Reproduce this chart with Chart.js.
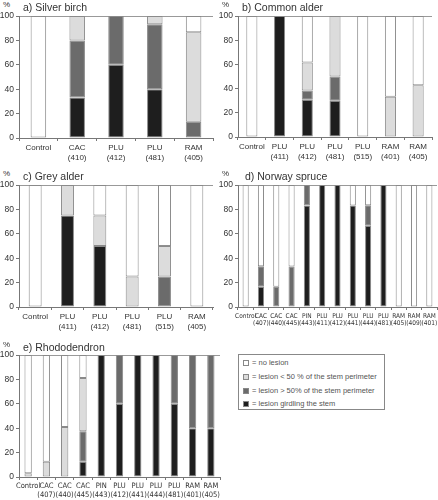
<!DOCTYPE html>
<html>
<head>
<meta charset="utf-8">
<script src="https://cdn.jsdelivr.net/npm/chart.js@4.4.0/dist/chart.umd.min.js"></script>
<style>
    body { margin: 0; background: #fff; font-family: "Liberation Sans", Arial, sans-serif; color: #333; }
    #wrap { position: relative; width: 438px; height: 500px; overflow: hidden; }
    canvas { position: absolute; }
    .t { position: absolute; font-size: 10.5px; line-height: 1; white-space: nowrap; color: #333; }
    .pc { position: absolute; font-size: 8px; line-height: 1; color: #333; }
    #legend { position: absolute; left: 238px; top: 354px; width: 147px; height: 56px; border: 1px solid #888; box-sizing: border-box; }
    .li { position: absolute; left: 4px; font-size: 7.5px; line-height: 1; white-space: nowrap; color: #555; }
    .sw { display: inline-block; width: 6px; height: 6px; border: 1px solid #888; box-sizing: border-box; vertical-align: -1px; margin-right: 3px; }
</style>
</head>
<body>
<div id="wrap">
    <canvas id="chartA"></canvas>
    <canvas id="chartB"></canvas>
    <canvas id="chartC"></canvas>
    <canvas id="chartD"></canvas>
    <canvas id="chartE"></canvas>

    <div class="pc" style="left:3px;top:1px">%</div>
    <div class="t" style="left:23px;top:2px">a) Silver birch</div>
    <div class="pc" style="left:222px;top:1px">%</div>
    <div class="t" style="left:242px;top:2px">b) Common alder</div>
    <div class="pc" style="left:3px;top:170px">%</div>
    <div class="t" style="left:23px;top:171px">c) Grey alder</div>
    <div class="pc" style="left:222px;top:170px">%</div>
    <div class="t" style="left:245px;top:171px">d) Norway spruce</div>
    <div class="pc" style="left:3px;top:341px">%</div>
    <div class="t" style="left:23px;top:342px">e) Rhododendron</div>

    <div id="legend">
        <div class="li" style="top:4px"><span class="sw" style="background:#fff"></span>= no lesion</div>
        <div class="li" style="top:18px"><span class="sw" style="background:#dcdcdc"></span>= lesion &lt; 50 % of the stem perimeter</div>
        <div class="li" style="top:32px"><span class="sw" style="background:#6b6b6b"></span>= lesion &gt; 50% of the stem perimeter</div>
        <div class="li" style="top:45px"><span class="sw" style="background:#1e1e1e"></span>= lesion girdling the stem</div>
    </div>
</div>

<script>
// y axis ticks (percent)
const yTicks = [0, 10, 20, 30, 40, 50, 60, 70, 80, 90, 100];

// a) Silver birch
const birchLabels = ['Control', ['CAC', '(410)'], ['PLU', '(412)'], ['PLU', '(481)'], ['RAM', '(405)']];
const birchGirdling = [0, 33.3, 60, 40, 0];
const birchOver50 = [0, 46.7, 40, 53.3, 13.3];
const birchUnder50 = [0, 20, 0, 6.7, 73.4];
const birchNone = [100, 0, 0, 0, 13.3];

// b) Common alder
const calderLabels = ['Control', ['PLU', '(411)'], ['PLU', '(412)'], ['PLU', '(481)'], ['PLU', '(515)'], ['RAM', '(401)'], ['RAM', '(405)']];
const calderGirdling = [0, 100, 30.8, 30, 0, 0, 0];
const calderOver50 = [0, 0, 7.7, 20, 0, 0, 0];
const calderUnder50 = [0, 0, 23.1, 50, 0, 33.3, 42.9];
const calderNone = [100, 0, 38.4, 0, 100, 66.7, 57.1];

// c) Grey alder
const galderLabels = ['Control', ['PLU', '(411)'], ['PLU', '(412)'], ['PLU', '(481)'], ['PLU', '(515)'], ['RAM', '(405)']];
const galderGirdling = [0, 75, 50, 0, 0, 0];
const galderOver50 = [0, 0, 0, 0, 25, 0];
const galderUnder50 = [0, 25, 25, 25, 25, 0];
const galderNone = [100, 0, 25, 75, 50, 100];

// d) Norway spruce
const spruceLabels = ['Control', ['CAC', '(407)'], ['CAC', '(440)'], ['CAC', '(445)'], ['PIN', '(443)'], ['PLU', '(411)'], ['PLU', '(412)'],
    ['PLU', '(441)'], ['PLU', '(444)'], ['PLU', '(481)'], ['RAM', '(405)'], ['RAM', '(409)'], ['RAM', '(401)']];
const spruceGirdling = [0, 16.7, 0, 0, 83.3, 100, 100, 83.3, 66.7, 100, 0, 0, 0];
const spruceOver50 = [0, 16.7, 16.7, 33.3, 16.7, 0, 0, 0, 16.7, 0, 0, 0, 0];
const spruceUnder50 = [0, 0, 0, 0, 0, 0, 0, 0, 0, 0, 0, 0, 0];
const spruceNone = [100, 66.6, 83.3, 66.7, 0, 0, 0, 16.7, 16.6, 0, 100, 100, 100];

// e) Rhododendron
const rhodoLabels = ['Control', ['CAC', '(407)'], ['CAC', '(440)'], ['CAC', '(445)'], ['PIN', '(443)'], ['PLU', '(412)'],
    ['PLU', '(441)'], ['PLU', '(444)'], ['PLU', '(481)'], ['RAM', '(401)'], ['RAM', '(405)']];
const rhodoGirdling = [0, 0, 0, 12.5, 100, 60, 100, 100, 60, 40, 40];
const rhodoOver50 = [0, 0, 0, 25, 0, 40, 0, 0, 40, 60, 60];
const rhodoUnder50 = [3, 12.5, 41, 43.75, 0, 0, 0, 0, 0, 0, 0];
const rhodoNone = [97, 87.5, 59, 18.75, 0, 0, 0, 0, 0, 0, 0];

const fills = ['#1e1e1e', '#6b6b6b', '#dcdcdc', '#ffffff'];
const edge = '#8a8a8a';
const fontFamily = '"Liberation Sans", Arial, sans-serif';
const narrowFamily = '"DejaVu Sans Condensed", "Liberation Sans", Arial, sans-serif';

// Build one stacked panel; box = chart area in page pixels
function makePanel(id, labels, series, box, tickFont) {
    const canvas = document.getElementById(id);
    const padTop = 6, padRight = 6, xAxisH = 26;
    const w = box.right - box.x + padRight;
    const h = box.bottom - box.top + padTop + xAxisH;
    canvas.width = w;
    canvas.height = h;
    canvas.style.left = box.x + 'px';
    canvas.style.top = (box.top - padTop) + 'px';
    canvas.style.width = w + 'px';
    canvas.style.height = h + 'px';

    new Chart(canvas.getContext('2d'), {
        type: 'bar',
        data: {
            labels: labels,
            datasets: series.map((vals, i) => ({
                data: vals.map(v => v || null),
                backgroundColor: fills[i],
                borderColor: edge,
                borderWidth: 1,
                borderSkipped: false,
                barPercentage: 0.4,
                categoryPercentage: 1
            }))
        },
        options: {
            responsive: false,
            animation: false,
            layout: { padding: { top: padTop, right: padRight, left: 0, bottom: 0 } },
            plugins: { legend: { display: false }, title: { display: false }, tooltip: { enabled: false } },
            scales: {
                x: {
                    stacked: true,
                    offset: true,
                    afterFit: s => { s.height = xAxisH; },
                    grid: { offset: true, drawOnChartArea: false, tickLength: 3, color: '#777' },
                    border: { display: true, color: '#777' },
                    ticks: {
                        autoSkip: false, maxRotation: 0, padding: 2,
                        color: '#333', font: Object.assign({ lineHeight: 1.2 }, tickFont)
                    }
                },
                y: {
                    stacked: true,
                    min: 0, max: 100,
                    afterFit: s => { s.width = box.left - box.x; },
                    afterBuildTicks: s => { s.ticks = yTicks.map(v => ({ value: v })); },
                    grid: {
                        tickLength: 3,
                        tickColor: '#777',
                        color: c => (c.tick && c.tick.value === 100) ? '#999' : 'rgba(0,0,0,0)'
                    },
                    border: { display: true, color: '#777' },
                    ticks: { padding: 2, color: '#333', font: { family: fontFamily, size: 8.5 } }
                }
            }
        }
    });
}

makePanel('chartA', birchLabels, [birchGirdling, birchOver50, birchUnder50, birchNone],
    { x: 0, left: 19, top: 15, right: 213, bottom: 138 }, { family: fontFamily, size: 8 });
makePanel('chartB', calderLabels, [calderGirdling, calderOver50, calderUnder50, calderNone],
    { x: 219, left: 238, top: 15, right: 432, bottom: 137 }, { family: fontFamily, size: 8 });
makePanel('chartC', galderLabels, [galderGirdling, galderOver50, galderUnder50, galderNone],
    { x: 0, left: 19, top: 184, right: 213, bottom: 307 }, { family: fontFamily, size: 8 });
makePanel('chartD', spruceLabels, [spruceGirdling, spruceOver50, spruceUnder50, spruceNone],
    { x: 219, left: 238, top: 184, right: 437, bottom: 307 }, { family: narrowFamily, size: 6.5 });
makePanel('chartE', rhodoLabels, [rhodoGirdling, rhodoOver50, rhodoUnder50, rhodoNone],
    { x: 0, left: 19, top: 354, right: 220, bottom: 477 }, { family: narrowFamily, size: 7.5 });
</script>
</body>
</html>
